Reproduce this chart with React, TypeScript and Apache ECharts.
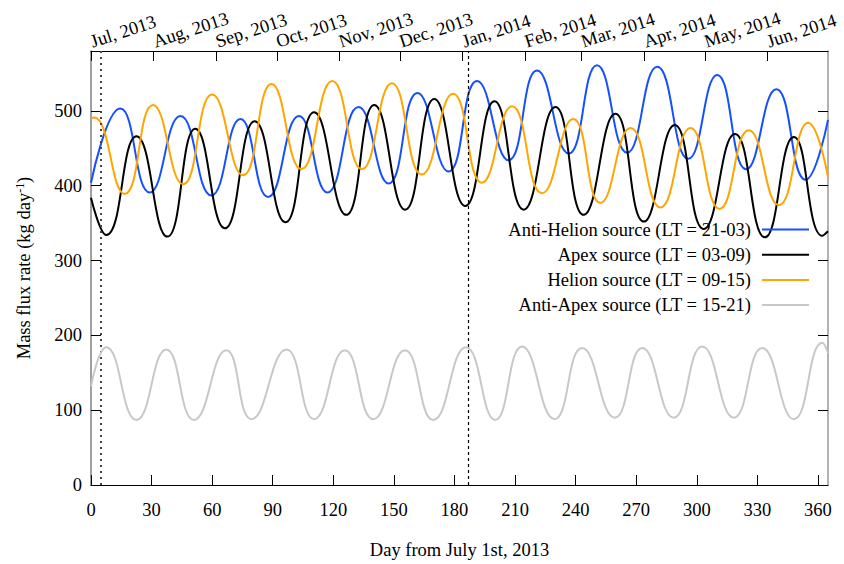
import React, { useEffect, useRef } from "react";
import * as echarts from "echarts";

const FONT = '"Liberation Serif", "Times New Roman", serif';

// [day, value] (extrema of each cycle)
const antiHelion: [number, number][] = [
  [0, 404], [14.5, 503], [29.1, 391], [44.3, 493], [59.6, 387], [74, 489], [87.7, 385],
  [103, 493], [117.1, 391], [132.5, 505], [147.4, 403], [161.7, 524], [177.1, 419],
  [191.2, 540], [206.8, 434], [220.9, 554], [236.6, 443], [250.6, 561], [265.5, 444],
  [280.4, 559], [295.8, 436], [310.1, 548], [324.5, 422], [339.4, 529], [353.9, 408], [365, 488],
];
const apex: [number, number][] = [
  [0, 384], [7.6, 334], [22.5, 466], [37.8, 332], [51.7, 476], [66.3, 343], [81.1, 486],
  [96.3, 351], [110.5, 498], [126.4, 361], [140.3, 508], [155.6, 368], [170, 516],
  [185.4, 373], [199.8, 513], [214.3, 368], [230, 505], [244, 361], [259.7, 496],
  [273.8, 352], [289.1, 481], [303.5, 342], [318.9, 469], [333.7, 331], [348.1, 465],
  [362.2, 333], [365, 339],
];
const helion: [number, number][] = [
  [0, 490], [1.5, 491], [16.7, 389], [30.7, 508], [45.6, 402], [60, 522], [75.3, 414],
  [89.4, 536], [104.2, 422], [119.5, 540], [134.2, 422], [149, 537], [163.9, 415],
  [179.3, 523], [193.6, 404], [208.5, 506], [223.4, 390], [238.8, 489], [252.3, 377],
  [267.2, 477], [282, 371], [296.9, 477], [311.3, 369], [325.8, 474], [340.7, 374],
  [355.2, 484], [365, 412],
];
const antiApex: [number, number][] = [
  [0, 132], [7.6, 184], [22.5, 87], [37.3, 181], [51, 87], [67, 180], [79.5, 88],
  [96.8, 181], [110.5, 88], [125.7, 180], [139.8, 88], [155.5, 180], [169.5, 87],
  [185.7, 184], [200.2, 87], [213.5, 185], [229.6, 88], [243.2, 183], [259.4, 90],
  [273, 183], [288.6, 90], [302.7, 185], [318.4, 90], [332.4, 183], [348.1, 88],
  [362.2, 190], [365, 176],
];

const seriesNames = [
  "Anti-Helion source (LT = 21-03)",
  "Apex source (LT = 03-09)",
  "Helion source (LT = 09-15)",
  "Anti-Apex source (LT = 15-21)",
];
const seriesColors = ["#1450ff", "#000000", "#ffa500", "#c8c8c8"];
const seriesData = [antiHelion, apex, helion, antiApex];

const monthDays = [0, 31, 62, 92, 123, 153, 184, 215, 243, 274, 304, 335];
const monthLabels = [
  "Jul, 2013", "Aug, 2013", "Sep, 2013", "Oct, 2013", "Nov, 2013", "Dec, 2013",
  "Jan, 2014", "Feb, 2014", "Mar, 2014", "Apr, 2014", "May, 2014", "Jun, 2014",
];
const aphelionDay = 4.8;
const perihelionDay = 187;

export default function App() {
  const ref = useRef<HTMLDivElement>(null);
  useEffect(() => {
    document.body.style.margin = "0";
    const chart = echarts.init(ref.current!, null, { renderer: "svg" });
    const fs = 18.5;
    const legendRows = [231, 256.3, 281.6, 306.6];
    chart.setOption({
      animation: false,
      backgroundColor: "#ffffff",
      textStyle: { fontFamily: FONT },
      grid: { left: 91, right: 16, top: 51, bottom: 76 },
      legend: seriesNames.map((n, i) => ({
        data: [n],
        right: 35,
        top: legendRows[i] - 11,
        padding: 0,
        align: "right",
        icon: "rect",
        itemWidth: 47,
        itemHeight: 2,
        selectedMode: false,
        textStyle: { fontFamily: FONT, fontSize: fs, color: "#000", padding: [0, 6, 0, 0] },
      })),
      xAxis: [
        {
          type: "value",
          min: 0,
          max: 365,
          interval: 30,
          position: "bottom",
          name: "Day from July 1st, 2013",
          nameLocation: "middle",
          nameGap: 55,
          nameTextStyle: { fontFamily: FONT, fontSize: fs, color: "#000" },
          axisLine: { onZero: false, lineStyle: { color: "#000", width: 1 } },
          axisTick: { inside: true, length: 10, lineStyle: { color: "#000" } },
          axisLabel: { fontFamily: FONT, fontSize: fs, color: "#000", margin: 15, showMaxLabel: false },
          splitLine: { show: false },
        },
        {
          type: "value",
          min: 0,
          max: 365,
          position: "top",
          axisLine: { onZero: false, lineStyle: { color: "#000", width: 1 } },
          axisTick: { show: true, inside: true, length: 10, customValues: monthDays, lineStyle: { color: "#000" } },
          axisLabel: {
            customValues: monthDays,
            formatter: (v: number) => {
              const i = monthDays.indexOf(Math.round(v));
              return i >= 0 ? monthLabels[i] : "";
            },
            rotate: -18,
            margin: 9,
            fontFamily: FONT,
            fontSize: fs,
            color: "#000",
          },
          splitLine: { show: false },
        },
      ],
      yAxis: [
        {
          type: "value",
          min: 0,
          max: 580,
          interval: 100,
          position: "left",
          name: "Mass flux rate (kg day{sup|-1})",
          nameLocation: "middle",
          nameGap: 57,
          nameTextStyle: {
            fontFamily: FONT,
            fontSize: fs,
            color: "#000",
            rich: {
              sup: { fontFamily: FONT, fontSize: 12, color: "#000", verticalAlign: "top", padding: [0, 0, 8, 0] },
            },
          },
          axisLine: { show: true, onZero: false, lineStyle: { color: "#808080", width: 1.5 } },
          axisTick: { inside: true, length: 10, lineStyle: { color: "#000" } },
          axisLabel: { fontFamily: FONT, fontSize: fs, color: "#000", margin: 9, showMaxLabel: false },
          splitLine: { show: false },
        },
        {
          type: "value",
          min: 0,
          max: 580,
          interval: 100,
          position: "right",
          axisLine: { show: true, onZero: false, lineStyle: { color: "#999999", width: 1.5 } },
          axisTick: { inside: true, length: 10, lineStyle: { color: "#000" } },
          axisLabel: { show: false },
          splitLine: { show: false },
        },
      ],
      series: seriesData.map((d, i) => ({
        name: seriesNames[i],
        type: "line",
        data: d,
        smooth: 0.5,
        symbol: "none",
        lineStyle: { color: seriesColors[i], width: 2 },
        itemStyle: { color: seriesColors[i] },
        z: 2 + i,
        ...(i === 3
          ? {
              markLine: {
                silent: true,
                symbol: ["none", "none"],
                label: { show: false },
                data: [
                  { xAxis: aphelionDay, lineStyle: { color: "#444", width: 2, type: [2, 4] } },
                  { xAxis: perihelionDay, lineStyle: { color: "#000", width: 1.2, type: [3, 3] } },
                ],
              },
            }
          : {}),
      })),
    });
    return () => chart.dispose();
  }, []);
  return <div ref={ref} style={{ width: 844, height: 564 }} />;
}
